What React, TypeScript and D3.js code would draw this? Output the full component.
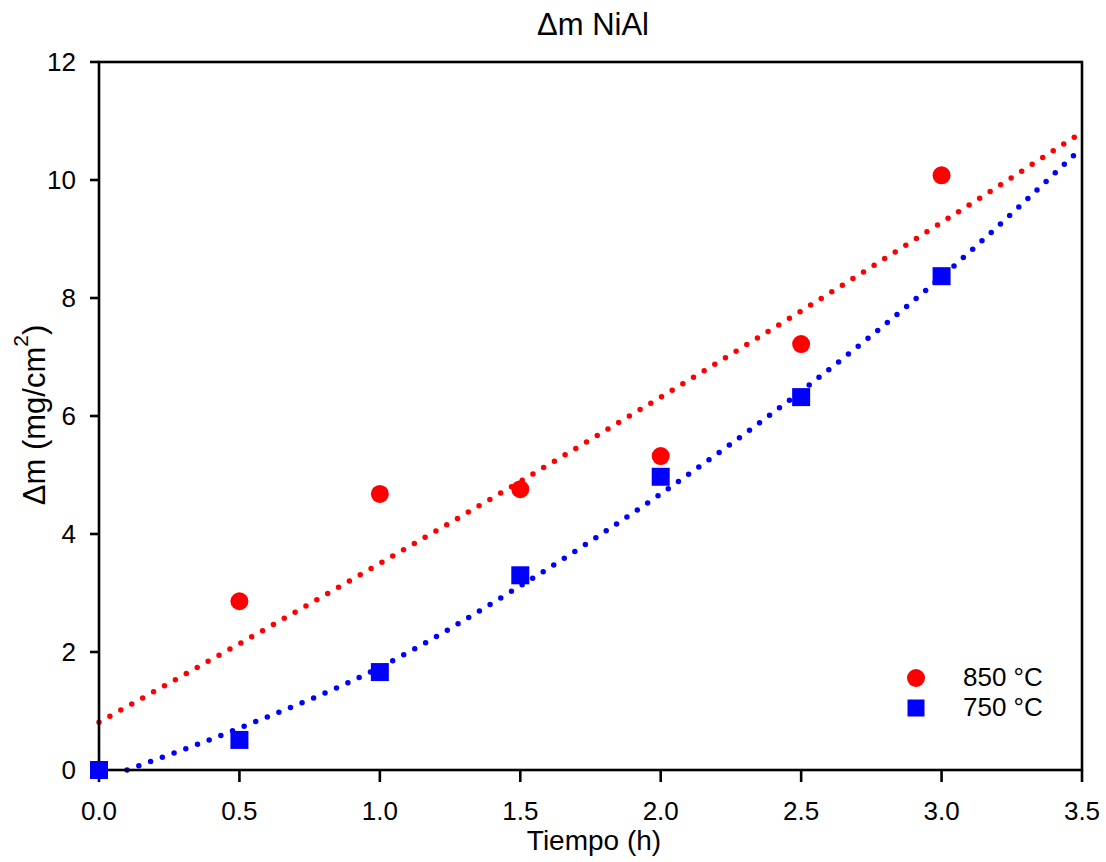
import React from 'react';
import * as d3 from 'd3';

// measured points
const times = [0, 0.5, 1.0, 1.5, 2.0, 2.5, 3.0];
const dm850 = [0, 2.86, 4.68, 4.76, 5.32, 7.22, 10.08];
const dm750 = [0, 0.51, 1.66, 3.3, 4.97, 6.32, 8.37];

// fitted curves
const fit850X = [0, 0.5, 1.0, 1.5, 2.0, 2.5, 3.0, 3.5];
const fit850Y = [0.81, 2.14, 3.5, 4.89, 6.32, 7.78, 9.28, 10.81];
const fit750X = [0.1, 0.5, 1.0, 1.5, 2.0, 2.5, 3.0, 3.5];
const fit750Y = [0, 0.71, 1.74, 3.12, 4.68, 6.42, 8.36, 10.55];

const xTicks = [0, 0.5, 1.0, 1.5, 2.0, 2.5, 3.0, 3.5];
const yTicks = [0, 2, 4, 6, 8, 10, 12];

const W = 1106;
const H = 862;
const margin = { top: 62, right: 24, bottom: 92, left: 99 };
const font = 'Liberation Sans, Arial, sans-serif';

const App = () => {
  const innerW = 1082 - margin.left;
  const innerH = 770 - margin.top;

  const x = d3.scaleLinear().domain([0, 3.5]).range([0, innerW]);
  const y = d3.scaleLinear().domain([0, 12]).range([innerH, 0]);

  const line = d3.line<[number, number]>()
    .x(d => x(d[0]))
    .y(d => y(d[1]))
    .curve(d3.curveMonotoneX);

  const red850 = line(fit850X.map((v, i) => [v, fit850Y[i]]) as [number, number][]);
  const blue750 = line(fit750X.map((v, i) => [v, fit750Y[i]]) as [number, number][]);

  const dotted = { fill: 'none', strokeWidth: 5.5, strokeLinecap: 'round' as const, strokeDasharray: '0 12.5' };

  return (
    <svg width={W} height={H} style={{ position: 'absolute', left: 0, top: 0, background: '#fff' }}
      fontFamily={font}>
      <text x={593} y={35} textAnchor="middle" fontSize={31}>Δm NiAl</text>
      <g transform={`translate(${margin.left},${margin.top})`}>
        <path d={red850 || ''} stroke="#ff0000" {...dotted} />
        <path d={blue750 || ''} stroke="#0000ff" {...dotted} />

        <rect x={0} y={0} width={innerW} height={innerH} fill="none" stroke="#000" strokeWidth={2.6} />

        {yTicks.map(t => (
          <g key={'y' + t} transform={`translate(0,${y(t)})`}>
            <line x1={-9} x2={0} stroke="#000" strokeWidth={2.6} />
            <text x={-23} dy="0.36em" textAnchor="end" fontSize={26}>{t}</text>
          </g>
        ))}
        {xTicks.map(t => (
          <g key={'x' + t} transform={`translate(${x(t)},${innerH})`}>
            <line y1={0} y2={12} stroke="#000" strokeWidth={2.6} />
            <text y={50} textAnchor="middle" fontSize={26}>{t.toFixed(1)}</text>
          </g>
        ))}

        {times.map((t, i) => (
          <circle key={'c' + i} cx={x(t)} cy={y(dm850[i])} r={9} fill="#ff0000" />
        ))}
        {times.map((t, i) => (
          <rect key={'s' + i} x={x(t) - 9} y={y(dm750[i]) - 9} width={18} height={18} fill="#0000ff" />
        ))}
      </g>

      <text x={594} y={850} textAnchor="middle" fontSize={28}>Tiempo (h)</text>
      <text transform="translate(45,415) rotate(-90)" textAnchor="middle" fontSize={31}>
        Δm (mg/cm<tspan dy={-17} fontSize={21}>2</tspan><tspan dy={17}>)</tspan>
      </text>

      <circle cx={916} cy={678} r={9} fill="#ff0000" />
      <text x={963} y={686} fontSize={26}>850 °C</text>
      <rect x={907.5} y={699.5} width={17} height={17} fill="#0000ff" />
      <text x={963} y={716} fontSize={26}>750 °C</text>
    </svg>
  );
};

export default App;
